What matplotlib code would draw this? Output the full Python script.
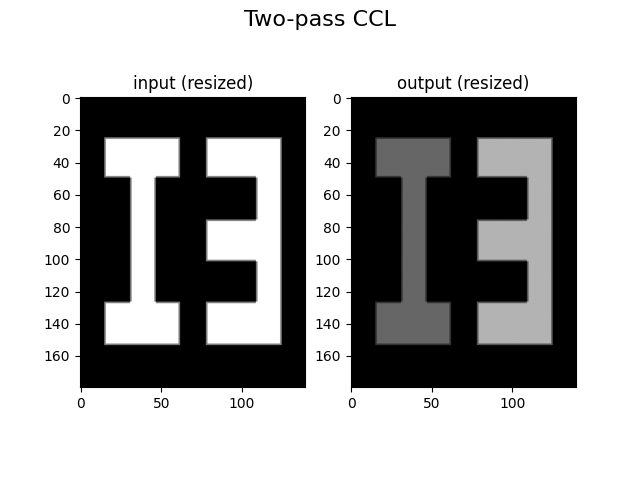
import numpy as np
import matplotlib
matplotlib.use("Agg")
import matplotlib.pyplot as plt

# image size (rows, cols)
img_shape = (180, 140)

# rectangles of the input shapes: (row_start, row_stop, col_start, col_stop)
shape_I = [(25, 50, 15, 62), (50, 127, 31, 47), (127, 154, 15, 62)]
shape_E = [(25, 154, 109, 125), (25, 50, 78, 125), (76, 102, 78, 125), (127, 154, 78, 125)]

# output label intensities (normalised grey)
label_values = [0.4, 0.7]
# intensity factor of the resize-blurred boundary pixels
edge_factor = 0.5

inp = np.zeros(img_shape)
out = np.zeros(img_shape)
for shapes, val in zip([shape_I, shape_E], label_values):
    mask = np.zeros(img_shape, dtype=bool)
    for r0, r1, c0, c1 in shapes:
        mask[r0:r1, c0:c1] = True
    pad = np.pad(mask, 1)
    interior = (pad[:-2, 1:-1] & pad[2:, 1:-1] & pad[1:-1, :-2] & pad[1:-1, 2:]) & mask
    edge = mask & ~interior
    inp[interior] = 1.0
    inp[edge] = edge_factor
    out[interior] = val
    out[edge] = val * edge_factor

fig, axes = plt.subplots(1, 2, figsize=(6.4, 4.8), dpi=100)
fig.suptitle("Two-pass CCL", fontsize=16)
axes[0].imshow(inp, cmap="gray", vmin=0, vmax=1)
axes[0].set_title("input (resized)")
axes[1].imshow(out, cmap="gray", vmin=0, vmax=1)
axes[1].set_title("output (resized)")
fig.savefig("out.png")
